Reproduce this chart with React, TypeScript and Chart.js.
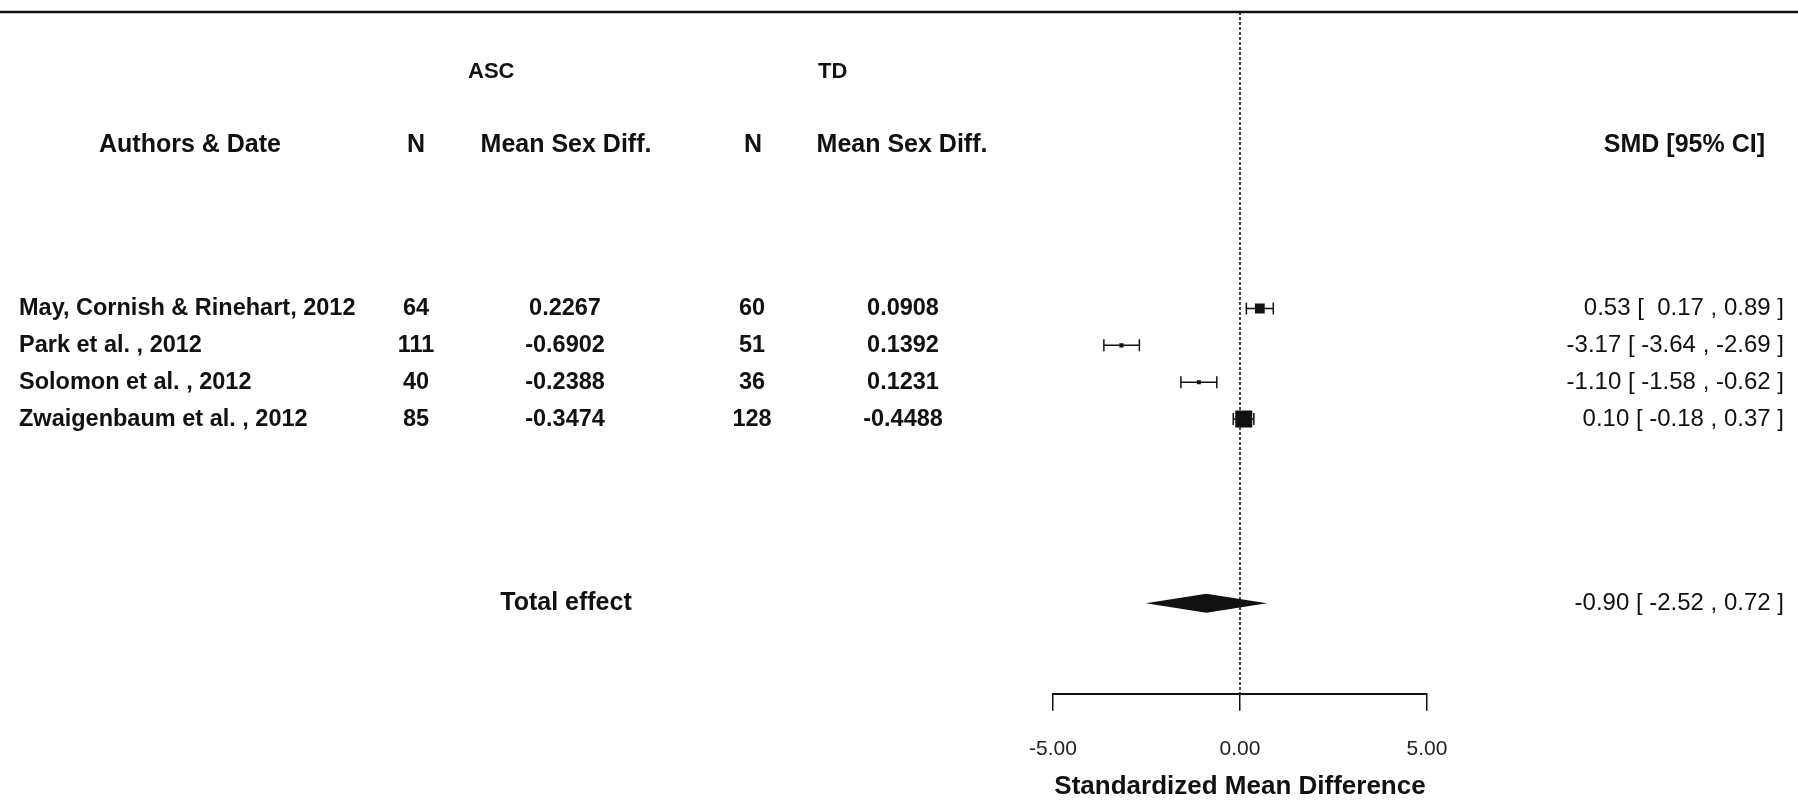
import React, { useEffect, useRef } from "react";
import { Chart, registerables } from "chart.js";

Chart.register(...registerables);

// ---------- data ----------
const studies = [
  "May, Cornish & Rinehart, 2012",
  "Park et al. , 2012",
  "Solomon et al. , 2012",
  "Zwaigenbaum et al. , 2012",
];
const ascN = ["64", "111", "40", "85"];
const ascMean = ["0.2267", "-0.6902", "-0.2388", "-0.3474"];
const tdN = ["60", "51", "36", "128"];
const tdMean = ["0.0908", "0.1392", "0.1231", "-0.4488"];
const smd = [0.53, -3.17, -1.1, 0.1];
const ciLow = [0.17, -3.64, -1.58, -0.18];
const ciHigh = [0.89, -2.69, -0.62, 0.37];

const totalLabel = "Total effect";
const totalSmd = -0.9;
const totalLow = -2.52;
const totalHigh = 0.72;

const xTicks = [-5, 0, 5];
const xTitle = "Standardized Mean Difference";
const groupHeaders = ["ASC", "TD"];
const colHeaders = ["Authors & Date", "N", "Mean Sex Diff.", "N", "Mean Sex Diff.", "SMD [95% CI]"];

// ---------- layout helpers ----------
const FONT = "'Liberation Sans', Arial, sans-serif";
const INK = "#111";
const studyRow = (i: number) => i + 1;
const totalRow = studies.length + 5;
const fmt = (v: number) => v.toFixed(2);
const ciText = (e: number, l: number, h: number) =>
  `${fmt(e)} [ ${l < 0 ? fmt(l) : " " + fmt(l)} , ${fmt(h)} ]`;

// marker size from precision (1/SE), like metafor
const prec = ciLow.map((l, i) => 1 / ((ciHigh[i] - l) / 3.92));
const pMin = Math.min(...prec);
const pMax = Math.max(...prec);
const markerSide = prec.map((p) => 4 + 13 * ((p - pMin) / (pMax - pMin)));

const forestPlugin = {
  id: "forest",
  beforeDatasetsDraw(chart: any) {
    const { ctx, chartArea, scales } = chart;
    const x = scales.x;
    const y = scales.y;
    ctx.save();
    // top rule
    ctx.strokeStyle = INK;
    ctx.lineWidth = 2.5;
    ctx.beginPath();
    ctx.moveTo(0, chartArea.top);
    ctx.lineTo(chart.width, chartArea.top);
    ctx.stroke();
    // reference line at 0
    ctx.lineWidth = 1.5;
    ctx.setLineDash([3, 2]);
    ctx.beginPath();
    ctx.moveTo(x.getPixelForValue(0), chartArea.top);
    ctx.lineTo(x.getPixelForValue(0), chartArea.bottom);
    ctx.stroke();
    ctx.setLineDash([]);
    // whiskers
    ctx.lineWidth = 1.5;
    studies.forEach((_, i) => {
      const yp = y.getPixelForValue(studyRow(i));
      const xl = x.getPixelForValue(ciLow[i]);
      const xh = x.getPixelForValue(ciHigh[i]);
      ctx.beginPath();
      ctx.moveTo(xl, yp);
      ctx.lineTo(xh, yp);
      ctx.moveTo(xl, yp - 6);
      ctx.lineTo(xl, yp + 6);
      ctx.moveTo(xh, yp - 6);
      ctx.lineTo(xh, yp + 6);
      ctx.stroke();
    });
    // summary diamond
    const yt = y.getPixelForValue(totalRow);
    ctx.fillStyle = INK;
    ctx.beginPath();
    ctx.moveTo(x.getPixelForValue(totalLow), yt);
    ctx.lineTo(x.getPixelForValue(totalSmd), yt - 9.5);
    ctx.lineTo(x.getPixelForValue(totalHigh), yt);
    ctx.lineTo(x.getPixelForValue(totalSmd), yt + 9.5);
    ctx.closePath();
    ctx.fill();
    ctx.restore();
  },
  afterDraw(chart: any) {
    const { ctx, scales } = chart;
    const y = scales.y;
    ctx.save();
    ctx.fillStyle = INK;
    ctx.textBaseline = "middle";
    const put = (t: string, xp: number, yp: number, align: CanvasTextAlign, font: string) => {
      ctx.font = font;
      ctx.textAlign = align;
      ctx.fillText(t, xp, yp);
    };
    const hb = `bold 25px ${FONT}`;
    const rb = `bold 23.5px ${FONT}`;
    const cr = `24px ${FONT}`;
    // group headers
    const yg = y.getPixelForValue(-5.43);
    put(groupHeaders[0], 468, yg, "left", `bold 22px ${FONT}`);
    put(groupHeaders[1], 818, yg, "left", `bold 22px ${FONT}`);
    // column headers
    const yh = y.getPixelForValue(-3.43);
    put(colHeaders[0], 190, yh, "center", hb);
    put(colHeaders[1], 416, yh, "center", hb);
    put(colHeaders[2], 566, yh, "center", hb);
    put(colHeaders[3], 753, yh, "center", hb);
    put(colHeaders[4], 902, yh, "center", hb);
    put(colHeaders[5], 1765, yh, "right", hb);
    // study rows
    studies.forEach((s, i) => {
      const yp = y.getPixelForValue(studyRow(i));
      put(s, 19, yp, "left", rb);
      put(ascN[i], 416, yp, "center", rb);
      put(ascMean[i], 565, yp, "center", rb);
      put(tdN[i], 752, yp, "center", rb);
      put(tdMean[i], 903, yp, "center", rb);
      put(ciText(smd[i], ciLow[i], ciHigh[i]), 1784, yp, "right", cr);
    });
    const yt = y.getPixelForValue(totalRow);
    put(totalLabel, 566, yt, "center", hb);
    put(ciText(totalSmd, totalLow, totalHigh), 1784, yt, "right", cr);
    ctx.restore();
  },
};

export default function App() {
  const ref = useRef<HTMLCanvasElement | null>(null);
  useEffect(() => {
    document.body.style.margin = "0";
    const canvas = ref.current;
    if (!canvas) return;
    const chart = new Chart(canvas, {
      type: "scatter",
      data: {
        datasets: [
          {
            label: "SMD",
            data: smd.map((v, i) => ({ x: v, y: studyRow(i) })),
            pointStyle: "rect",
            pointRadius: markerSide.map((s) => s / Math.SQRT2),
            pointBackgroundColor: INK,
            pointBorderWidth: 0,
            pointBorderColor: INK,
          },
        ],
      },
      plugins: [forestPlugin],
      options: {
        animation: false,
        responsive: false,
        devicePixelRatio: 1,
        layout: { padding: { left: 1053, right: 371, top: 9, bottom: 0 } },
        plugins: { legend: { display: false }, tooltip: { enabled: false } },
        scales: {
          x: {
            type: "linear",
            min: -5,
            max: 5,
            afterBuildTicks: (s: any) => {
              s.ticks = xTicks.map((v) => ({ value: v }));
            },
            ticks: {
              callback: (v: any) => Number(v).toFixed(2),
              font: { family: FONT, size: 21 },
              color: "#222",
              padding: 26,
              maxRotation: 0,
              autoSkip: false,
            },
            grid: { drawOnChartArea: false, drawTicks: true, tickLength: 17, color: INK, lineWidth: 1.5 },
            border: { display: true, color: INK, width: 2 },
            title: {
              display: true,
              text: xTitle,
              font: { family: FONT, size: 26, weight: "bold", lineHeight: 1.0 },
              color: INK,
              padding: { top: -14, bottom: 0 },
            },
          },
          y: {
            type: "linear",
            display: false,
            reverse: true,
            min: -7.05,
            max: 11.46,
          },
        },
      },
    });
    return () => chart.destroy();
  }, []);
  return <canvas ref={ref} width={1798} height={800} style={{ display: "block" }} />;
}
